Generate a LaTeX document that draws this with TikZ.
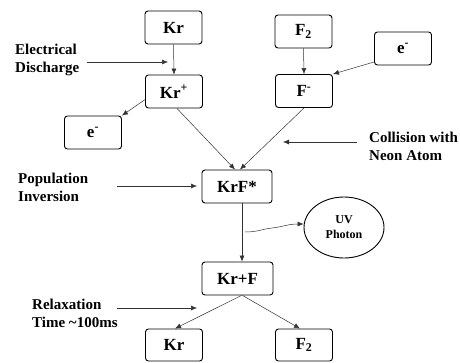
\documentclass[tikz,border=0pt]{standalone}
\usepackage{fontspec}
\setmainfont{Liberation Serif}
\usetikzlibrary{arrows.meta,shapes.geometric}
\begin{document}
\begin{tikzpicture}[x=1pt,y=-1pt,
 box/.style={draw, rounded corners=3pt, line width=0.9pt, minimum width=57pt, minimum height=33pt, inner sep=0pt, font=\fontsize{17}{18}\selectfont\bfseries},
 lbl/.style={align=left, anchor=north west, inner sep=0pt, font=\fontsize{15}{17.5}\selectfont\bfseries},
 arr/.style={-{Latex[length=6pt,width=5pt]}, line width=0.5pt, draw=black!80}]
\useasboundingbox (0,0) rectangle (460,362);
% boxes
\node[box] (kr) at (173.5,27.5) {Kr};
\node[box] (krp) at (174,91.5) {Kr\textsuperscript{+}};
\node[box] (em1) at (93,132.5) {e\textsuperscript{-}};
\node[box] (f2) at (303.5,31.5) {F\textsubscript{2}};
\node[box] (em2) at (403,48.5) {e\textsuperscript{-}};
\node[box] (fm) at (304,91) {F\textsuperscript{-}};
\node[box, minimum width=70pt] (krf) at (237,186.5) {KrF*};
\node[box, minimum width=71pt] (krpf) at (237.5,278.5) {Kr+F};
\node[box, minimum height=32pt] (krb) at (174,345) {Kr};
\node[box, minimum height=32pt] (f2b) at (304,345) {F\textsubscript{2}};
\node[draw, ellipse, line width=0.9pt, minimum width=80pt, minimum height=61pt, inner sep=0pt, align=center, font=\fontsize{12}{15}\selectfont\bfseries] (uv) at (344,227.5) {UV\\Photon};
% labels
\node[lbl] (ed) at (15,44) {Electrical\\Discharge};
\node[lbl] (col) at (369,132) {Collision with\\Neon Atom};
\node[lbl] (pop) at (18,173) {Population\\Inversion};
\node[lbl] (rel) at (32,299) {Relaxation\\Time \textasciitilde100ms};
% coordinates for free ends
\coordinate (edA) at (87,62);
\coordinate (edB) at (168,62);
\coordinate (colA) at (357,142);
\coordinate (colB) at (283,142);
\coordinate (popA) at (117,186);
\coordinate (popB) at (197,186);
\coordinate (relA) at (117,308);
\coordinate (relB) at (197,308);
\coordinate (wvA) at (245,232);
% connectors
\draw[arr] (kr.south) -- (krp.north);
\draw[arr] (f2.south) -- (fm.north);
\draw[arr] ([yshift=-8]krp.west) -- (em1.north east);
\draw[arr] ([yshift=-13.5]em2.west) -- (fm.north east);
\draw[arr] ([xshift=3]krp.south) -- ([xshift=-2]krf.north);
\draw[arr] (fm.south) -- ([xshift=3]krf.north);
\draw[arr] ([xshift=5]krf.south) -- ([xshift=5]krf.south |- krpf.north);
\draw[arr] ([xshift=4]krpf.south) -- ([xshift=1]krb.north);
\draw[arr] ([xshift=5]krpf.south) -- ([xshift=-4]f2b.north);
\draw[arr] (edA) -- (edB);
\draw[arr] (colA) -- (colB);
\draw[arr] (popA) -- (popB);
\draw[arr] (relA) -- (relB);
\draw[arr] (wvA) .. controls (258,232) and (262,229) .. (272,228) .. controls (282,227) and (288,224) .. ([yshift=3.5]uv.west);
\end{tikzpicture}
\end{document}
